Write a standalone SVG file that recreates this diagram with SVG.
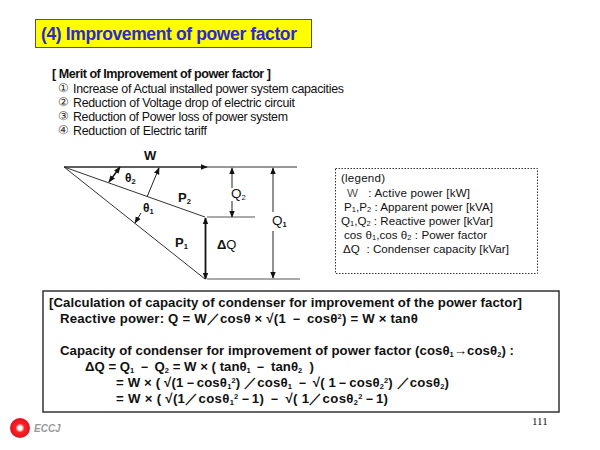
<svg xmlns="http://www.w3.org/2000/svg" width="600" height="450" viewBox="0 0 600 450">
<defs>
<marker id="a" viewBox="0 0 10 10" refX="9" refY="5" markerWidth="7" markerHeight="7" markerUnits="userSpaceOnUse" orient="auto-start-reverse"><path d="M0 1L10 5L0 9Z" fill="#111"/></marker>
<radialGradient id="r"><stop offset="0.2" stop-color="#fff"/><stop offset="0.45" stop-color="#f22"/><stop offset="1" stop-color="#e01020"/></radialGradient>
</defs>
<style>
text{font-family:"Liberation Sans",Arial,sans-serif;fill:#111;white-space:pre}
.m{font-size:12.4px}
.o{font-size:11.5px;fill:#333}
.h{font-size:12.6px;font-weight:bold}
.l{font-size:11.6px}
.c{font-size:13.2px;font-weight:bold}
.d{font-size:13px;font-weight:bold}
.q{font-size:13.500px}
.s{font-size:7.500px}
.ln{stroke:#333;stroke-width:1;fill:none}
.ar{stroke:#222;stroke-width:1;fill:none;marker-end:url(#a)}
</style>
<rect width="600" height="450" fill="#fff"/>
<g id="title"><rect x="35.500" y="19.500" width="276" height="28" fill="#ffff00" stroke="#555"/><text x="41" y="40" font-size="17.500" font-weight="bold" style="fill:#2a2ad0" textLength="256">(4) Improvement of power factor</text></g>
<g id="merits">
<text class="h" x="52" y="78" textLength="219">[ Merit of Improvement of power factor ]</text>
<text class="o" x="58" y="92">①</text><text class="m" x="73" y="93" textLength="271">Increase of Actual installed power system capacities</text>
<text class="o" x="58" y="106">②</text><text class="m" x="73" y="107" textLength="222">Reduction of Voltage drop of electric circuit</text>
<text class="o" x="58" y="120">③</text><text class="m" x="73" y="121" textLength="215">Reduction of Power loss of power system</text>
<text class="o" x="58" y="134">④</text><text class="m" x="73" y="135" textLength="134">Reduction of Electric tariff</text>
</g>
<g id="connectors">
<path class="ln" d="M64 167H297"/><path class="ar" d="M64 167H207"/>
<path class="ln" d="M64 167L205 217"/><path class="ln" d="M64 167L205 279"/>
<path class="ln" d="M207 217H255M207 279H300" style="stroke:#555"/>
<path class="ar" d="M232 188V168"/><path class="ar" d="M232 201V217"/>
<path class="ar" d="M273 212V168"/><path class="ar" d="M273 231V278"/>
<path d="M205.500 279V218" stroke="#111" stroke-width="1.800" fill="none" marker-start="url(#a)" marker-end="url(#a)"/>
<path d="M120 167L109 182" stroke="#111" stroke-width="1.500" fill="none" marker-start="url(#a)" marker-end="url(#a)"/>
<path class="ar" d="M147 197L159 168"/><path class="ar" d="M141 213L135 223"/>
</g>
<g id="diagram-labels">
<text class="d" x="144" y="160">W</text>
<text class="d" x="125" y="182" style="font-size:12px">θ<tspan class="s" dy="2">2</tspan></text>
<text class="d" x="143" y="212" style="font-size:12px">θ<tspan class="s" dy="2">1</tspan></text>
<text class="d" x="178" y="202">P<tspan class="s" dy="2">2</tspan></text>
<text class="d" x="175" y="247">P<tspan class="s" dy="2">1</tspan></text>
<text class="d" x="217" y="249">Δ<tspan style="font-weight:normal">Q</tspan></text>
<text class="q" x="231" y="198">Q<tspan class="s" dy="2">2</tspan></text>
<text class="q" x="272" y="225">Q<tspan class="s" dy="2" font-weight="bold">1</tspan></text>
</g>
<g id="legend">
<rect x="335.500" y="168.500" width="202" height="105" fill="#fff" stroke="#333" stroke-dasharray="1.500 1.500"/>
<text class="l" x="341" y="182" textLength="44">(legend)</text>
<text class="l" x="347" y="197" textLength="123"><tspan style="fill:#555">W</tspan>   : Active power [kW]</text>
<text class="l" x="344" y="211" textLength="149">P<tspan class="s" dy="1">1</tspan><tspan dy="-1">,P</tspan><tspan class="s" dy="1">2</tspan><tspan dy="-1"> : Apparent power [kVA]</tspan></text>
<text class="l" x="341" y="225" textLength="152">Q<tspan class="s" dy="1">1</tspan><tspan dy="-1">,Q</tspan><tspan class="s" dy="1">2</tspan><tspan dy="-1"> : Reactive power [kVar]</tspan></text>
<text class="l" x="344" y="239" textLength="143">cos θ<tspan class="s" dy="1">1</tspan><tspan dy="-1">,cos θ</tspan><tspan class="s" dy="1">2</tspan><tspan dy="-1"> : Power factor</tspan></text>
<text class="l" x="343" y="253" textLength="166">ΔQ  : Condenser capacity [kVar]</text>
</g>
<g id="calculation">
<rect x="43" y="291" width="516" height="121" fill="#fff" stroke="#333" stroke-width="1.500"/>
<text class="c" x="49" y="307" textLength="473">[Calculation of capacity of condenser for improvement of the power factor]</text>
<text class="c" x="60" y="323" textLength="358">Reactive power: Q = W／cosθ × √(1 － cosθ<tspan class="s" dy="-4">2</tspan><tspan dy="4">) = W × tanθ</tspan></text>
<text class="c" x="60" y="355" textLength="454">Capacity of condenser for improvement of power factor (cosθ<tspan class="s" dy="2">1</tspan><tspan dy="-2">→cosθ</tspan><tspan class="s" dy="2">2</tspan><tspan dy="-2">) :</tspan></text>
<text class="c" x="85" y="371" textLength="229">ΔQ = Q<tspan class="s" dy="2">1</tspan><tspan dy="-2"> － Q</tspan><tspan class="s" dy="2">2</tspan><tspan dy="-2"> = W × ( tanθ</tspan><tspan class="s" dy="2">1</tspan><tspan dy="-2"> － tanθ</tspan><tspan class="s" dy="2">2</tspan><tspan dy="-2">  )</tspan></text>
<text class="c" x="116" y="387" textLength="333">= W × ( √(1－cosθ<tspan class="s" dy="2">1</tspan><tspan class="s" dy="-6">2</tspan><tspan dy="4">) ／cosθ</tspan><tspan class="s" dy="2">1</tspan><tspan dy="-2"> － √( 1－cosθ</tspan><tspan class="s" dy="2">2</tspan><tspan class="s" dy="-6">2</tspan><tspan dy="4">) ／cosθ</tspan><tspan class="s" dy="2">2</tspan><tspan dy="-2">)</tspan></text>
<text class="c" x="116" y="403" textLength="272">= W × ( √(1／cosθ<tspan class="s" dy="2">1</tspan><tspan class="s" dy="-6">2</tspan><tspan dy="4">－1) － √( 1／cosθ</tspan><tspan class="s" dy="2">2</tspan><tspan class="s" dy="-6">2</tspan><tspan dy="4">－1)</tspan></text>
</g>
<g id="page"><text x="532" y="425" font-size="11" style="font-family:'Liberation Serif',serif">111</text></g>
<g id="logo"><circle cx="20" cy="428" r="10" fill="url(#r)"/><text x="34" y="432" font-size="10" font-weight="bold" font-style="italic" style="fill:#999">ECCJ</text></g>
</svg>
